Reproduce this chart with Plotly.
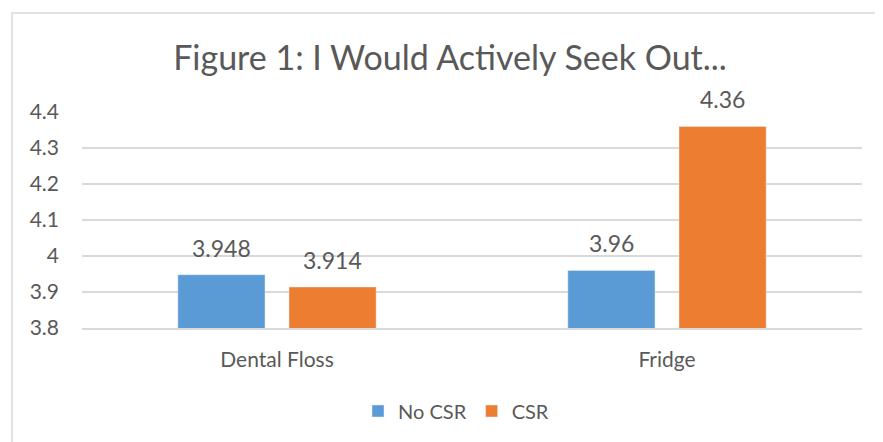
import plotly.graph_objects as go

categories = ["Dental Floss", "Fridge"]
series_names = ["No CSR", "CSR"]
no_csr = [3.948, 3.96]
csr = [3.914, 4.36]
label_no_csr = ["3.948", "3.96"]
label_csr = ["3.914", "4.36"]
y_ticks = [3.8, 3.9, 4.0, 4.1, 4.2, 4.3, 4.4]
y_ticktext = ["3.8", "3.9", "4", "4.1", "4.2", "4.3", "4.4"]

BLUE = "#5B9BD5"
ORANGE = "#ED7D31"
TXT = "#595959"
GRID = "#D9D9D9"
FONT = "Lato, 'Open Sans', sans-serif"

# page body has an 8px margin; the figure is sized/positioned to compensate
W, H = 875, 434
L, R, T, B = 74, 21, 104, 114
PW = W - L - R
PH = H - T - B

fig = go.Figure()
fig.add_trace(go.Bar(name=series_names[0], x=categories, y=no_csr, marker_color=BLUE))
fig.add_trace(go.Bar(name=series_names[1], x=categories, y=csr, marker_color=ORANGE))

for vals, labs, sh in [(no_csr, label_no_csr, -55.5), (csr, label_csr, 55.5)]:
    for c, v, t in zip(categories, vals, labs):
        fig.add_annotation(x=c, y=v, text=t, showarrow=False, xshift=sh, yshift=11,
                           yanchor="bottom", font=dict(size=23, color=TXT, family=FONT))

fig.add_shape(type="rect", xref="paper", yref="paper",
              x0=(4 - L) / PW, x1=1.2, y0=-1.0, y1=(PH + T - 5) / PH,
              line=dict(color="#D9D9D9", width=1.5), fillcolor="rgba(0,0,0,0)", layer="below")

fig.update_layout(
    width=W, height=H,
    margin=dict(l=L, r=R, t=T, b=B),
    paper_bgcolor="white", plot_bgcolor="white",
    barmode="group", bargap=0.43, bargroupgap=0.216,
    font=dict(family=FONT, color=TXT),
    title=dict(text="Figure 1: I Would Actively Seek Out...", x=442 / W, xanchor="center",
               y=1 - 50 / H, yanchor="middle", font=dict(size=34, color=TXT, family=FONT)),
    legend=dict(orientation="h", x=(456 - 82) / 780, xanchor="center", y=(320 - 403) / PH,
                yanchor="middle", font=dict(size=20, color=TXT, family=FONT),
                traceorder="normal"),
    showlegend=True,
)
fig.update_xaxes(showgrid=False, showline=True, linecolor=GRID, linewidth=1.5,
                 tickfont=dict(size=21, color=TXT, family=FONT), ticks="", ticklabelstandoff=12)
fig.update_yaxes(range=[3.8, 4.4], tickvals=y_ticks, ticktext=y_ticktext, showgrid=True,
                 gridcolor=GRID, gridwidth=1.5, zeroline=False, showline=False,
                 tickfont=dict(size=21, color=TXT, family=FONT), ticklabelstandoff=22)

fig.write_html("out.html")
